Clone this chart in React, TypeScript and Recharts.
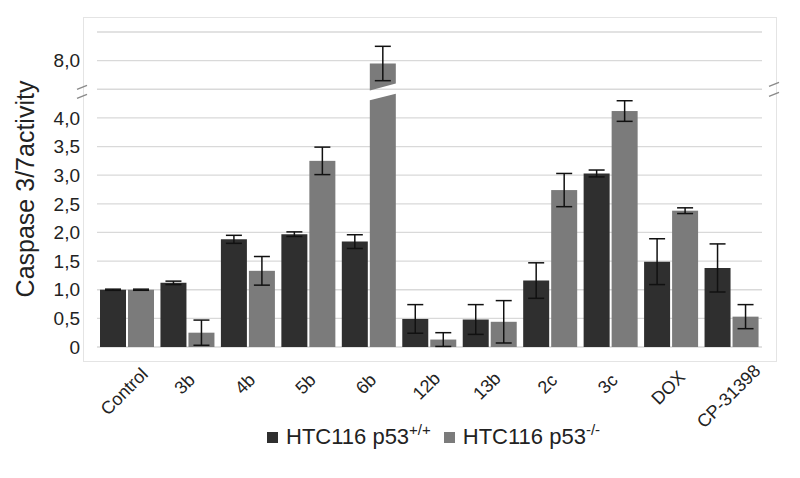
import React from "react";
import { BarChart, Bar, XAxis, YAxis, CartesianGrid, ErrorBar, ReferenceLine } from "recharts";

// compounds on the x axis
const categories = ["Control", "3b", "4b", "5b", "6b", "12b", "13b", "2c", "3c", "DOX", "CP-31398"];

// HTC116 p53+/+ (dark bars)
const wildType = [1.0, 1.12, 1.88, 1.97, 1.84, 0.49, 0.48, 1.16, 3.03, 1.49, 1.38];
const wildTypeErr = [0.01, 0.03, 0.07, 0.04, 0.12, 0.25, 0.26, 0.31, 0.06, 0.4, 0.42];

// HTC116 p53-/- (light bars)
const knockout = [1.0, 0.25, 1.33, 3.25, 7.95, 0.13, 0.44, 2.74, 4.12, 2.38, 0.53];
const knockoutErr = [0.01, 0.22, 0.25, 0.24, 0.3, 0.12, 0.37, 0.29, 0.18, 0.05, 0.21];

// broken axis: 0..4,0 below the break, 7,5..8,5 above it
const yTicks = [0, 0.5, 1, 1.5, 2, 2.5, 3, 3.5, 4, 4.5, 5, 5.5];
const yTickLabels = ["0", "0,5", "1,0", "1,5", "2,0", "2,5", "3,0", "3,5", "4,0", "", "8,0", ""];
const BREAK_FROM = 4.25;
const BREAK_SHIFT = 3;

const DARK = "#2f2f2f";
const LIGHT = "#7b7b7b";
const FONT = "'Liberation Sans', Arial, sans-serif";

const toAxis = (v: number) => (v > BREAK_FROM ? v - BREAK_SHIFT : v);

const data = categories.map((name, i) => ({
  name,
  a: wildType[i],
  aT: toAxis(wildType[i]),
  aErr: wildTypeErr[i],
  b: knockout[i],
  bT: toAxis(knockout[i]),
  bErr: knockoutErr[i],
}));

let measureCtx: CanvasRenderingContext2D | null = null;
function textWidth(s: string, size: number) {
  if (!measureCtx) measureCtx = document.createElement("canvas").getContext("2d");
  if (!measureCtx) return s.length * size * 0.55;
  measureCtx.font = `${size}px ${FONT}`;
  return measureCtx.measureText(s).width;
}

const XTick = (props: any) => {
  const { x, y, payload } = props;
  const w = textWidth(payload.value, 18);
  const cx = x - 3;
  const cy = y + 31 + 0.2 * w;
  return (
    <text
      x={cx}
      y={cy}
      textAnchor="middle"
      dominantBaseline="central"
      fontSize={18}
      fontFamily={FONT}
      fill="#222"
      transform={`rotate(-45 ${cx} ${cy})`}
    >
      {payload.value}
    </text>
  );
};

// light bar with the slanted cut where it crosses the axis break
const BrokenBar = (props: any) => {
  const { x, y, width, height, fill, payload } = props;
  if (!payload || payload.b <= BREAK_FROM || !height) {
    return <rect x={x} y={y} width={width} height={height} fill={fill} />;
  }
  const base = y + height;
  const k = height / payload.bT;
  const at = (v: number) => base - v * k;
  return (
    <g>
      <polygon
        points={`${x},${y} ${x + width},${y} ${x + width},${at(4.6)} ${x},${at(4.48)}`}
        fill={fill}
      />
      <polygon
        points={`${x},${at(4.31)} ${x + width},${at(4.42)} ${x + width},${base} ${x},${base}`}
        fill={fill}
      />
    </g>
  );
};

const BreakMarks = (props: any) => {
  const { x1, y1, x2 } = props;
  const slash = (cx: number, cy: number, key: string) => (
    <line key={key} x1={cx - 5} y1={cy + 2} x2={cx + 5} y2={cy - 2} stroke="#8a8a8a" strokeWidth={1.3} />
  );
  return (
    <g>
      {slash(x1 - 15, y1 - 2, "l1")}
      {slash(x1 - 15, y1 + 7, "l2")}
      {slash(x2 + 12, y1 - 5, "r1")}
      {slash(x2 + 12, y1 + 5, "r2")}
    </g>
  );
};

const YLabel = () => (
  <text
    x={34}
    y={189}
    transform="rotate(-90 34 189)"
    textAnchor="middle"
    fontSize={25}
    fontFamily={FONT}
    fill="#222"
  >
    Caspase 3/7activity
  </text>
);

const LegendItem = ({ color, sup }: { color: string; sup: string }) => (
  <div style={{ display: "flex", alignItems: "center", marginRight: 13 }}>
    <span style={{ display: "inline-block", width: 11, height: 11, background: color, marginRight: 8 }} />
    <span style={{ fontSize: 22, color: "#222", whiteSpace: "nowrap" }}>
      HTC116 p53<sup style={{ fontSize: 15, verticalAlign: "top", position: "relative", top: -3 }}>{sup}</sup>
    </span>
  </div>
);

export default function App() {
  return (
    <div style={{ position: "absolute", left: 0, top: 0, width: 800, height: 478, background: "#fff", fontFamily: FONT }}>
      <div
        style={{
          position: "absolute",
          left: 83,
          top: 17,
          width: 692,
          height: 343,
          border: "1px solid #e4e4e4",
        }}
      />
      <div style={{ position: "absolute", left: 0, top: 0 }}>
        <BarChart
          width={800}
          height={478}
          data={data}
          margin={{ top: 32, right: 38, left: 37, bottom: 71 }}
          barCategoryGap={3}
          barGap={2}
        >
          <CartesianGrid vertical={false} stroke="#d9d9d9" strokeWidth={1.3} />
          <XAxis
            dataKey="name"
            height={60}
            axisLine={false}
            tickLine={false}
            tickSize={0}
            interval={0}
            tick={<XTick />}
          />
          <YAxis
            type="number"
            width={60}
            domain={[0, 5.5]}
            ticks={yTicks}
            interval={0}
            axisLine={false}
            tickLine={false}
            tickMargin={11}
            tick={{ fontSize: 19, fill: "#222", fontFamily: FONT }}
            tickFormatter={(v: number) => yTickLabels[yTicks.indexOf(v)] ?? ""}
            label={<YLabel />}
          />
          <ReferenceLine y={4.5} stroke="none" ifOverflow="visible" shape={<BreakMarks />} />
          <Bar dataKey="aT" fill={DARK} isAnimationActive={false}>
            <ErrorBar dataKey="aErr" width={8} stroke="#111" strokeWidth={1.5} />
          </Bar>
          <Bar dataKey="bT" fill={LIGHT} isAnimationActive={false} shape={<BrokenBar />}>
            <ErrorBar dataKey="bErr" width={8} stroke="#111" strokeWidth={1.5} />
          </Bar>
        </BarChart>
      </div>
      <div style={{ position: "absolute", left: 267, top: 424, display: "flex", alignItems: "center" }}>
        <LegendItem color={DARK} sup="+/+" />
        <LegendItem color={LIGHT} sup="-/-" />
      </div>
    </div>
  );
}
